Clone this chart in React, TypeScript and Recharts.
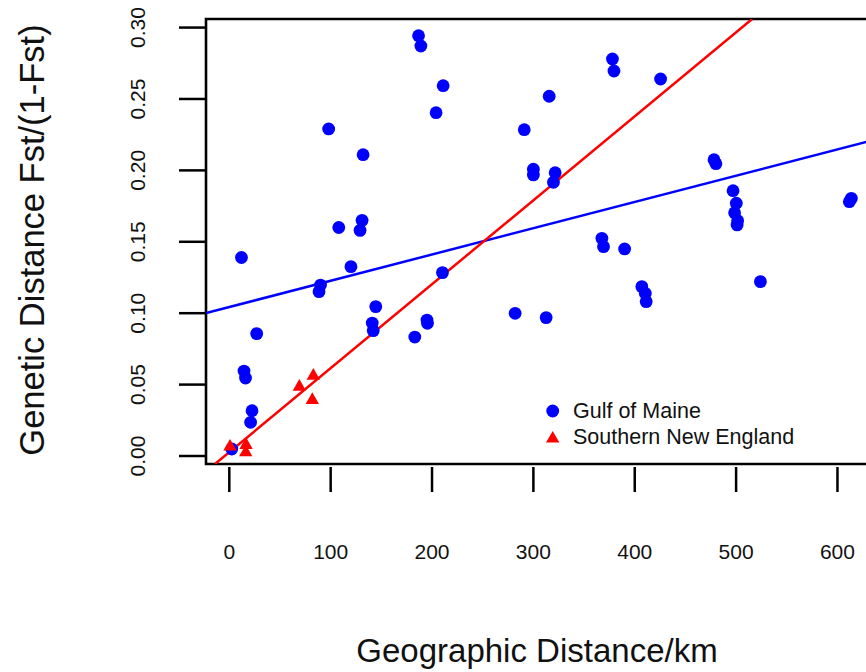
import { ScatterChart, Scatter, XAxis, YAxis, ReferenceLine, ReferenceArea, Legend } from 'recharts'

const FONT = '"Liberation Sans", Arial, Helvetica, sans-serif'

// distance (km) / Fst/(1-Fst)
const gulfX = [
  98, 132, 108, 131, 129, 12, 120, 90, 88.5, 144.5, 141, 142, 27, 14.5, 16, 22.4, 21, 2.4,
  186.7, 189, 211, 204, 315.6, 378, 379.5, 425.5, 291, 300, 300, 321.5, 319.8,
  478.2, 480.1, 497, 500.2, 498.5, 501.5, 501, 613.7, 611.7, 367.6, 369.2, 390,
  210.3, 195, 195.5, 183, 282, 312.6, 407, 410.4, 411.3, 524,
]
const gulfY = [
  0.229, 0.211, 0.16, 0.165, 0.158, 0.139, 0.1326, 0.1197, 0.1151, 0.1046, 0.0931, 0.0878, 0.0857,
  0.0595, 0.0546, 0.0317, 0.0236, 0.0049,
  0.2943, 0.2871, 0.2593, 0.2404, 0.2519, 0.278, 0.2696, 0.264, 0.2285, 0.2008, 0.1968, 0.1984, 0.1917,
  0.2075, 0.2047, 0.1858, 0.177, 0.1704, 0.1648, 0.1618, 0.1804, 0.1781, 0.1524, 0.1466, 0.145,
  0.1284, 0.0952, 0.0929, 0.0833, 0.0999, 0.0969, 0.1186, 0.1139, 0.1081, 0.1221,
]
const sneX = [0.7, 16.5, 16.2, 69.1, 82.9, 81.9]
const sneY = [0.0077, 0.0089, 0.0037, 0.0497, 0.0574, 0.0404]

// fitted lines: intercept, slope
const gulfFit = [0.1043, 0.000184]
const sneFit = [0.0027, 0.000588]

const xTicks = [0, 100, 200, 300, 400, 500, 600]
const yTicks = [0, 0.05, 0.1, 0.15, 0.2, 0.25, 0.3]
const xDomain = [-23, 640]
const yDomain = [-0.0056, 0.306]

const gulf = gulfX.map((x, i) => ({ x, y: gulfY[i] }))
const sne = sneX.map((x, i) => ({ x, y: sneY[i] }))

function fitSegment([b, m]: number[]) {
  // clamp the line to the plotting box
  let x1 = xDomain[0], x2 = xDomain[1]
  if (b + m * x1 < yDomain[0]) x1 = (yDomain[0] - b) / m
  if (b + m * x2 > yDomain[1]) x2 = (yDomain[1] - b) / m
  return [{ x: x1, y: b + m * x1 }, { x: x2, y: b + m * x2 }]
}

const Dot = (p: any) => <circle cx={p.cx} cy={p.cy} r={6.4} fill="#0000ff" />
const Tri = (p: any) => (
  <path d={`M${p.cx},${p.cy - 6}L${p.cx + 6.7},${p.cy + 5.6}L${p.cx - 6.7},${p.cy + 5.6}Z`} fill="#ff0000" />
)

// plot box edges (chart px)
const BOX_LEFT = 206
const BOX_BOTTOM = 464

const renderXTick = (p: any) => (
  <g key={`xt-${p.payload.value}`}>
    <line x1={p.x} x2={p.x} y1={BOX_BOTTOM + 3} y2={BOX_BOTTOM + 28} stroke="#000" strokeWidth={2.5} />
    <text x={p.x} y={BOX_BOTTOM + 95} textAnchor="middle" fontSize={21} fontFamily={FONT} fill="#111">
      {p.payload.value}
    </text>
  </g>
)

const renderYTick = (p: any) => {
  const tx = BOX_LEFT - 61
  return (
    <g key={`yt-${p.payload.value}`}>
      <line x1={BOX_LEFT - 27} x2={BOX_LEFT} y1={p.y} y2={p.y} stroke="#000" strokeWidth={2.5} />
      <text
        x={tx}
        y={p.y}
        transform={`rotate(-90, ${tx}, ${p.y})`}
        textAnchor="middle"
        fontSize={21}
        fontFamily={FONT}
        fill="#111"
      >
        {Number(p.payload.value).toFixed(2)}
      </text>
    </g>
  )
}

function LegendBox() {
  const row = { display: 'flex', alignItems: 'center', height: 26 }
  return (
    <div style={{ fontFamily: FONT, fontSize: 21.5, color: '#111' }}>
      <div style={row}>
        <svg width={33} height={26}>
          <circle cx={12.7} cy={13} r={6.4} fill="#0000ff" />
        </svg>
        <span>Gulf of Maine</span>
      </div>
      <div style={row}>
        <svg width={33} height={26}>
          <path d="M12.7,7L19.4,18.6L6,18.6Z" fill="#ff0000" />
        </svg>
        <span>Southern New England</span>
      </div>
    </div>
  )
}

export default function App() {
  return (
    <div style={{ position: 'absolute', left: 0, top: 0, width: 866, height: 672, overflow: 'hidden', background: '#fff' }}>
      <ScatterChart width={900} height={672} margin={{ top: 19, right: 22, bottom: 178, left: 176 }}>
        <XAxis
          type="number"
          dataKey="x"
          domain={xDomain}
          ticks={xTicks}
          interval={0}
          height={30}
          axisLine={false}
          tickLine={false}
          tick={renderXTick}
          allowDataOverflow
        />
        <YAxis
          type="number"
          dataKey="y"
          domain={yDomain}
          ticks={yTicks}
          interval={0}
          width={30}
          axisLine={false}
          tickLine={false}
          tick={renderYTick}
          allowDataOverflow
        />
        <Scatter name="Gulf of Maine" data={gulf} shape={Dot} isAnimationActive={false} />
        <Scatter name="Southern New England" data={sne} shape={Tri} isAnimationActive={false} />
        <ReferenceLine segment={fitSegment(gulfFit)} stroke="#0000ff" strokeWidth={2.5} ifOverflow="hidden" />
        <ReferenceLine segment={fitSegment(sneFit)} stroke="#ff0000" strokeWidth={2.5} ifOverflow="hidden" />
        <ReferenceArea
          x1={xDomain[0]}
          x2={xDomain[1]}
          y1={yDomain[0]}
          y2={yDomain[1]}
          fill="none"
          fillOpacity={0}
          stroke="#000"
          strokeWidth={2.6}
          ifOverflow="visible"
        />
        <Legend
          layout="vertical"
          align="center"
          verticalAlign="middle"
          content={<LegendBox />}
          wrapperStyle={{ position: 'absolute', left: 540, top: 398, width: 320 }}
        />
        <text x={537} y={662} textAnchor="middle" fontSize={33} fontFamily={FONT} fill="#111">
          Geographic Distance/km
        </text>
        <text
          x={44}
          y={240}
          transform="rotate(-90, 44, 240)"
          textAnchor="middle"
          fontSize={34.5}
          fontFamily={FONT}
          fill="#111"
        >
          Genetic Distance Fst/(1-Fst)
        </text>
      </ScatterChart>
    </div>
  )
}
